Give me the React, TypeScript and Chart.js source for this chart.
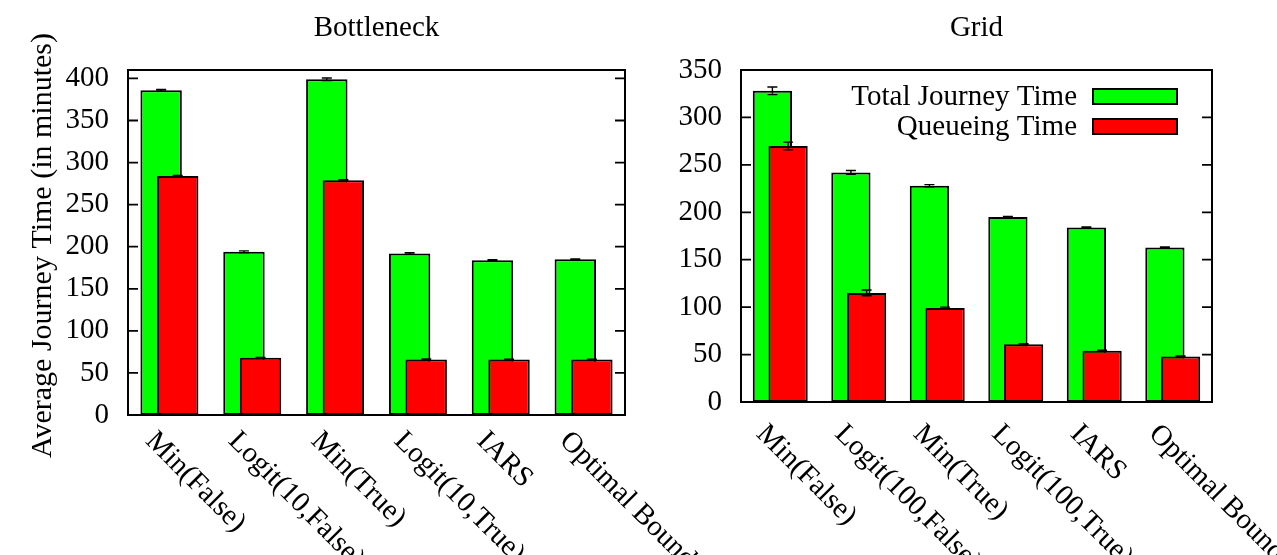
import { useEffect, useRef } from 'react';
import { Chart, registerables } from 'chart.js';

Chart.register(...registerables);

// ---------------- data ----------------
const bottleneckCategories = ['Min(False)', 'Logit(10,False)', 'Min(True)', 'Logit(10,True)', 'IARS', 'Optimal Bound'];
const bottleneckTotal = [386, 194, 399, 192, 184, 185];
const bottleneckTotalErr = [1, 1, 1.5, 1, 0.5, 0.5];
const bottleneckQueue = [284, 68, 279, 66, 66, 66];
const bottleneckQueueErr = [0.6, 0.5, 0.6, 0.5, 0.4, 0.4];

const gridCategories = ['Min(False)', 'Logit(100,False)', 'Min(True)', 'Logit(100,True)', 'IARS', 'Optimal Bound'];
const gridTotal = [328, 242, 228, 195, 184, 163];
const gridTotalErr = [4, 2, 1.2, 0.5, 0.5, 0.5];
const gridQueue = [270, 115, 99, 61, 54, 48];
const gridQueueErr = [4, 3, 1, 0.5, 0.5, 0.5];

const bottleneckYMax = 410;
const gridYMax = 350;
const yStep = 50;

const seriesLabels = ['Total Journey Time', 'Queueing Time'];
const yAxisTitle = 'Average Journey Time (in minutes)';

// ---------------- styling ----------------
const FONT = "'Liberation Serif', 'Times New Roman', serif";
const FS = 29;
const GREEN = '#00ff00';
const RED = '#ff0000';
const W = 1277;
const H = 555;

type Panel = {
  title: string;
  categories: string[];
  total: number[];
  totalErr: number[];
  queue: number[];
  queueErr: number[];
  yMax: number;
  area: { left: number; top: number; right: number; bottom: number };
  labelDrop: number;
  yTitle: boolean;
  legend: boolean;
};

const panels: Panel[] = [
  {
    title: 'Bottleneck',
    categories: bottleneckCategories,
    total: bottleneckTotal,
    totalErr: bottleneckTotalErr,
    queue: bottleneckQueue,
    queueErr: bottleneckQueueErr,
    yMax: bottleneckYMax,
    area: { left: 128, top: 70, right: 625, bottom: 415 },
    labelDrop: 27,
    yTitle: true,
    legend: false,
  },
  {
    title: 'Grid',
    categories: gridCategories,
    total: gridTotal,
    totalErr: gridTotalErr,
    queue: gridQueue,
    queueErr: gridQueueErr,
    yMax: gridYMax,
    area: { left: 741, top: 70, right: 1212, bottom: 402 },
    labelDrop: 33,
    yTitle: false,
    legend: true,
  },
];

function makePlugin(p: Panel) {
  return {
    id: 'gnuplotLook',
    afterDatasetsDraw(chart: any) {
      const ctx = chart.ctx as CanvasRenderingContext2D;
      const ca = chart.chartArea;
      const ys = chart.scales.y;
      const xs = chart.scales.x;
      ctx.save();

      // error bars
      chart.data.datasets.forEach((ds: any, di: number) => {
        const meta = chart.getDatasetMeta(di);
        meta.data.forEach((el: any, i: number) => {
          const v = ds.data[i].y;
          const e = ds.errors[i];
          const yt = ys.getPixelForValue(v + e);
          const yb = ys.getPixelForValue(v - e);
          ctx.strokeStyle = '#000';
          ctx.lineWidth = 1.4;
          ctx.beginPath();
          ctx.moveTo(el.x, yt);
          ctx.lineTo(el.x, yb);
          ctx.moveTo(el.x - 5, yt);
          ctx.lineTo(el.x + 5, yt);
          ctx.moveTo(el.x - 5, yb);
          ctx.lineTo(el.x + 5, yb);
          ctx.stroke();
        });
      });

      // frame
      ctx.strokeStyle = '#000';
      ctx.lineWidth = 2;
      ctx.strokeRect(ca.left, ca.top, ca.right - ca.left, ca.bottom - ca.top);

      // inward ticks on left and right
      ctx.lineWidth = 1.8;
      ctx.beginPath();
      for (let v = 0; v <= p.yMax; v += yStep) {
        const y = ys.getPixelForValue(v);
        ctx.moveTo(ca.left, y);
        ctx.lineTo(ca.left + 10, y);
        ctx.moveTo(ca.right, y);
        ctx.lineTo(ca.right - 10, y);
      }
      ctx.stroke();

      ctx.fillStyle = '#000';
      ctx.font = `${FS}px ${FONT}`;

      // rotated category labels
      p.categories.forEach((lab, i) => {
        const cx = xs.getPixelForValue(i);
        ctx.save();
        ctx.translate(cx - 25, ca.bottom + p.labelDrop);
        ctx.rotate(Math.PI / 4);
        ctx.textAlign = 'left';
        ctx.textBaseline = 'alphabetic';
        ctx.fillText(lab, 0, 0);
        ctx.restore();
      });

      // panel title
      ctx.textAlign = 'center';
      ctx.textBaseline = 'alphabetic';
      ctx.fillText(p.title, (ca.left + ca.right) / 2, 36);

      // y axis title
      if (p.yTitle) {
        ctx.save();
        ctx.font = `30px ${FONT}`;
        ctx.translate(43, (ca.top + ca.bottom) / 2 + 3);
        ctx.rotate(-Math.PI / 2);
        ctx.textAlign = 'center';
        ctx.textBaseline = 'middle';
        ctx.fillText(yAxisTitle, 0, 0);
        ctx.restore();
      }

      // legend (gnuplot style: text then sample box)
      if (p.legend) {
        const colors = [GREEN, RED];
        seriesLabels.forEach((lab, k) => {
          const cy = ca.top + 26.5 + k * 30;
          ctx.textAlign = 'right';
          ctx.textBaseline = 'middle';
          ctx.fillStyle = '#000';
          ctx.fillText(lab, ca.right - 135, cy + 1);
          ctx.fillStyle = colors[k];
          ctx.fillRect(ca.right - 119, cy - 7.5, 84, 15);
          ctx.lineWidth = 2;
          ctx.strokeStyle = '#000';
          ctx.strokeRect(ca.right - 119, cy - 7.5, 84, 15);
        });
      }
      ctx.restore();
    },
  };
}

function makeConfig(p: Panel): any {
  const yWidth = 100;
  return {
    type: 'bar',
    data: {
      datasets: [
        {
          label: seriesLabels[1],
          data: p.queue.map((v, i) => ({ x: i + 0.1, y: v })),
          errors: p.queueErr,
          backgroundColor: RED,
          borderColor: '#000',
          borderWidth: 2,
          borderSkipped: false,
        },
        {
          label: seriesLabels[0],
          data: p.total.map((v, i) => ({ x: i - 0.1, y: v })),
          errors: p.totalErr,
          backgroundColor: GREEN,
          borderColor: '#000',
          borderWidth: 2,
          borderSkipped: false,
        },
      ],
    },
    options: {
      animation: false,
      responsive: false,
      maintainAspectRatio: false,
      events: [],
      layout: {
        padding: {
          left: p.area.left - yWidth,
          top: p.area.top,
          right: W - p.area.right,
          bottom: H - p.area.bottom,
        },
      },
      datasets: {
        bar: { grouped: false, categoryPercentage: 1, barPercentage: 2.5 },
      },
      plugins: {
        legend: { display: false },
        title: { display: false },
        tooltip: { enabled: false },
      },
      scales: {
        x: {
          type: 'linear',
          display: false,
          offset: false,
          min: -0.5,
          max: 5.5,
          ticks: { stepSize: 1 },
        },
        y: {
          type: 'linear',
          min: 0,
          max: p.yMax,
          grid: { display: false, drawTicks: false },
          border: { display: false },
          ticks: {
            stepSize: yStep,
            includeBounds: false,
            color: '#000',
            padding: 19,
            font: { family: FONT, size: FS },
            callback: (v: number) => (v % yStep === 0 ? String(v) : ''),
          },
          afterFit: (s: any) => {
            s.width = yWidth;
          },
        },
      },
    },
    plugins: [makePlugin(p)],
  };
}

function PanelCanvas({ p }: { p: Panel }) {
  const ref = useRef<HTMLCanvasElement | null>(null);
  useEffect(() => {
    if (!ref.current) return;
    const chart = new Chart(ref.current, makeConfig(p));
    return () => chart.destroy();
  }, [p]);
  return (
    <canvas
      ref={ref}
      width={W}
      height={H}
      style={{ position: 'absolute', left: 0, top: 0, width: W, height: H, display: 'block' }}
    />
  );
}

export default function App() {
  return (
    <div
      style={{
        position: 'absolute',
        left: 0,
        top: 0,
        width: W,
        height: H,
        background: '#fff',
        overflow: 'hidden',
      }}
    >
      {panels.map((p) => (
        <PanelCanvas key={p.title} p={p} />
      ))}
    </div>
  );
}
